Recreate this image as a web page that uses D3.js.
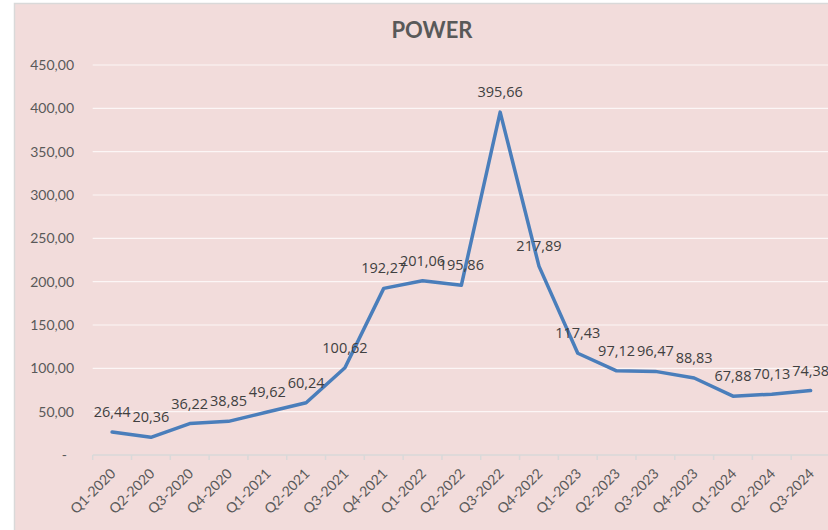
<!DOCTYPE html>
<html>
<head>
<meta charset="utf-8">
<script src="https://cdn.jsdelivr.net/npm/d3@7"></script>
<style>
  body { margin: 0; background: #fff; }
  svg { display: block; }
</style>
</head>
<body>
<svg id="chart" width="828" height="530"></svg>
<script>
// quarters on the x axis
var quarters = ['Q1-2020', 'Q2-2020', 'Q3-2020', 'Q4-2020', 'Q1-2021', 'Q2-2021', 'Q3-2021',
    'Q4-2021', 'Q1-2022', 'Q2-2022', 'Q3-2022', 'Q4-2022', 'Q1-2023', 'Q2-2023', 'Q3-2023',
    'Q4-2023', 'Q1-2024', 'Q2-2024', 'Q3-2024'];

var power = [26.44, 20.36, 36.22, 38.85, 49.62, 60.24, 100.62, 192.27, 201.06, 195.86,
    395.66, 217.89, 117.43, 97.12, 96.47, 88.83, 67.88, 70.13, 74.38];

var yTicks = [0, 50, 100, 150, 200, 250, 300, 350, 400, 450];

var config = {
    left: 92.7,
    right: 830,
    top: 65,
    bottom: 455,
    lineColor: '#4a7ebb',
    textColor: '#595959'
};

var fmt = function(v) {
    return d3.format('.2f')(v).replace('.', ',');
};

var svg = d3.select('#chart');

// chart area with border
svg.append('rect')
    .attr('x', 14.5)
    .attr('y', 3.5)
    .attr('width', 830)
    .attr('height', 540)
    .attr('fill', '#f2dcdb')
    .attr('stroke', '#d9d9d9')
    .attr('stroke-width', 1.5);

svg.append('text')
    .attr('x', 432)
    .attr('y', 38)
    .attr('text-anchor', 'middle')
    .style('font-family', 'Lato, sans-serif')
    .style('font-weight', 'bold')
    .style('font-size', '22px')
    .style('fill', config.textColor)
    .text('POWER');

var x = d3.scaleBand()
    .domain(quarters)
    .range([config.left, config.right]);

var y = d3.scaleLinear()
    .domain([0, 450])
    .range([config.bottom, config.top]);

// gridlines
svg.append('g')
    .selectAll('line')
    .data(yTicks.filter(function(d) { return d > 0; }))
    .join('line')
    .attr('x1', config.left)
    .attr('x2', 828)
    .attr('y1', function(d) { return y(d); })
    .attr('y2', function(d) { return y(d); })
    .attr('stroke', '#ffffff')
    .attr('stroke-opacity', 0.75)
    .attr('stroke-width', 1.2);

// y labels
svg.append('g')
    .selectAll('text')
    .data(yTicks)
    .join('text')
    .attr('x', function(d) { return d === 0 ? 67 : 74; })
    .attr('y', function(d) { return y(d); })
    .attr('dy', '0.35em')
    .attr('text-anchor', 'end')
    .style('font-family', 'Lato, sans-serif')
    .style('font-size', '14px')
    .style('fill', config.textColor)
    .text(function(d) { return d === 0 ? '-' : fmt(d); });

// x axis line and ticks
var xAxis = svg.append('g');
xAxis.append('line')
    .attr('x1', config.left)
    .attr('x2', 828)
    .attr('y1', config.bottom)
    .attr('y2', config.bottom)
    .attr('stroke', '#d9d9d9')
    .attr('stroke-width', 1.5);

xAxis.selectAll('.tick')
    .data(quarters.concat(['end']))
    .join('line')
    .classed('tick', true)
    .attr('x1', function(d, i) { return config.left + i * x.bandwidth(); })
    .attr('x2', function(d, i) { return config.left + i * x.bandwidth(); })
    .attr('y1', config.bottom)
    .attr('y2', config.bottom + 5)
    .attr('stroke', '#d9d9d9')
    .attr('stroke-width', 1.5);

xAxis.selectAll('text')
    .data(quarters)
    .join('text')
    .attr('transform', function(d) {
        return 'translate(' + (x(d) + x.bandwidth() / 2 + 1) + ',' + 471 + ') rotate(-45)';
    })
    .attr('dy', '0.35em')
    .attr('text-anchor', 'end')
    .style('font-family', 'Lato, sans-serif')
    .style('font-size', '14px')
    .style('fill', config.textColor)
    .text(function(d) { return d; });

// the series line
var line = d3.line()
    .x(function(d, i) { return x(quarters[i]) + x.bandwidth() / 2; })
    .y(function(d) { return y(d); });

svg.append('path')
    .datum(power)
    .attr('d', line)
    .attr('fill', 'none')
    .attr('stroke', config.lineColor)
    .attr('stroke-width', 3.5)
    .attr('stroke-linejoin', 'round')
    .attr('stroke-linecap', 'round');

// data labels
svg.append('g')
    .selectAll('text')
    .data(power)
    .join('text')
    .attr('x', function(d, i) { return x(quarters[i]) + x.bandwidth() / 2; })
    .attr('y', function(d) { return y(d) - 15; })
    .attr('text-anchor', 'middle')
    .style('font-family', '"Open Sans", sans-serif')
    .style('font-size', '14.5px')
    .style('fill', '#404040')
    .text(function(d) { return fmt(d); });
</script>
</body>
</html>
